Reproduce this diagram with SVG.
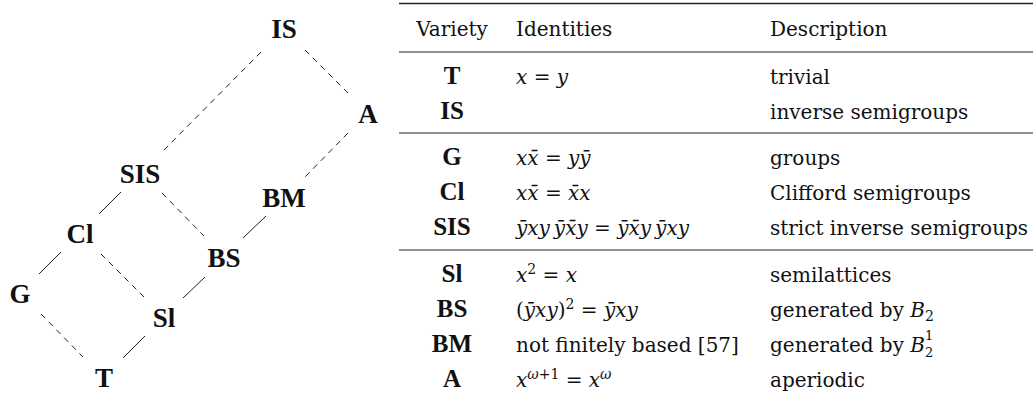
<svg xmlns="http://www.w3.org/2000/svg" width="1033" height="402" viewBox="0 0 1033 402">
<style>
.lbl{font-family:"Liberation Serif","Times New Roman",serif;font-weight:700;font-size:27px;fill:#111;text-anchor:middle}
.e{stroke:#222;stroke-width:1;fill:none}
.d{stroke-dasharray:6 5}
.t{font-family:"DejaVu Serif",serif;font-size:20px;fill:#111}
.tb{font-family:"Liberation Serif","Times New Roman",serif;font-size:25px;font-weight:700;fill:#111;text-anchor:middle}
.i{font-style:italic}
.s{font-size:14px}
.ss{font-size:13px}
.r{stroke:#222;fill:none}
</style>
<rect width="1033" height="402" fill="#fff"/>
<g id="connectors">
<line class="e d" x1="261" y1="52" x2="161" y2="153"/>
<line class="e d" x1="305" y1="50" x2="348" y2="93"/>
<line class="e d" x1="348" y1="133" x2="305" y2="177"/>
<line class="e d" x1="162" y1="193" x2="204" y2="236"/>
<line class="e d" x1="101" y1="254" x2="144" y2="297"/>
<line class="e d" x1="41" y1="314" x2="83" y2="357"/>
<line class="e" x1="121" y1="192" x2="99" y2="214"/>
<line class="e" x1="266" y1="216" x2="243" y2="238"/>
<line class="e" x1="61" y1="252" x2="39" y2="274"/>
<line class="e" x1="205" y1="277" x2="183" y2="298"/>
<line class="e" x1="145" y1="336" x2="123" y2="358"/>
</g>
<g id="node-IS"><text class="lbl" x="284" y="38">IS</text></g>
<g id="node-A"><text class="lbl" x="368" y="123">A</text></g>
<g id="node-SIS"><text class="lbl" x="140" y="183">SIS</text></g>
<g id="node-BM"><text class="lbl" x="284" y="207">BM</text></g>
<g id="node-Cl"><text class="lbl" x="80" y="243">Cl</text></g>
<g id="node-BS"><text class="lbl" x="224" y="267">BS</text></g>
<g id="node-G"><text class="lbl" x="20" y="303">G</text></g>
<g id="node-Sl"><text class="lbl" x="164" y="327">Sl</text></g>
<g id="node-T"><text class="lbl" x="104" y="387">T</text></g>
<g id="table">
<line class="r" x1="399" y1="3.5" x2="1033" y2="3.5" stroke-width="1.6"/>
<line class="r" x1="399" y1="52" x2="1033" y2="52" stroke-width="1"/>
<line class="r" x1="399" y1="133" x2="1033" y2="133" stroke-width="1"/>
<line class="r" x1="399" y1="250" x2="1033" y2="250" stroke-width="1"/>
<text class="t" x="452" y="36" text-anchor="middle">Variety</text>
<text class="t" x="516" y="36">Identities</text>
<text class="t" x="770" y="36">Description</text>

<text class="tb" x="452" y="84">T</text>
<text class="t" x="516" y="84"><tspan class="i">x</tspan> = <tspan class="i">y</tspan></text>
<text class="t" x="770" y="84">trivial</text>

<text class="tb" x="452" y="119">IS</text>
<text class="t" x="770" y="119">inverse semigroups</text>

<text class="tb" x="452" y="165">G</text>
<text class="t" x="516" y="165"><tspan class="i">xx&#x0304;</tspan> = <tspan class="i">yy&#x0304;</tspan></text>
<text class="t" x="770" y="165">groups</text>

<text class="tb" x="452" y="200">Cl</text>
<text class="t" x="516" y="200"><tspan class="i">xx&#x0304;</tspan> = <tspan class="i">x&#x0304;x</tspan></text>
<text class="t" x="770" y="200">Clifford semigroups</text>

<text class="tb" x="452" y="235">SIS</text>
<text class="t" x="516" y="235"><tspan class="i">y&#x0304;xy&#x2009;y&#x0304;x&#x0304;y</tspan> = <tspan class="i">y&#x0304;x&#x0304;y&#x2009;y&#x0304;xy</tspan></text>
<text class="t" x="770" y="235">strict inverse semigroups</text>

<text class="tb" x="452" y="282">Sl</text>
<text class="t" x="516" y="282"><tspan class="i">x</tspan><tspan class="s" dy="-8">2</tspan><tspan dy="8"> = </tspan><tspan class="i">x</tspan></text>
<text class="t" x="770" y="282">semilattices</text>

<text class="tb" x="452" y="317">BS</text>
<text class="t" x="516" y="317">(<tspan class="i">y&#x0304;xy</tspan>)<tspan class="s" dy="-8">2</tspan><tspan dy="8"> = </tspan><tspan class="i">y&#x0304;xy</tspan></text>
<text class="t" x="770" y="317">generated by <tspan class="i">B</tspan><tspan class="s" dy="4">2</tspan></text>

<text class="tb" x="452" y="352">BM</text>
<text class="t" x="516" y="352">not finitely based [57]</text>
<text class="t" x="770" y="352">generated by <tspan class="i">B</tspan><tspan class="ss" dy="5">2</tspan><tspan class="ss" dx="-8.3" dy="-17">1</tspan></text>

<text class="tb" x="452" y="387">A</text>
<text class="t" x="516" y="387"><tspan class="i">x</tspan><tspan class="s i" dy="-8">ω</tspan><tspan class="s">+1</tspan><tspan dy="8"> = </tspan><tspan class="i">x</tspan><tspan class="s i" dy="-8">ω</tspan></text>
<text class="t" x="770" y="387">aperiodic</text>
</g>
</svg>
